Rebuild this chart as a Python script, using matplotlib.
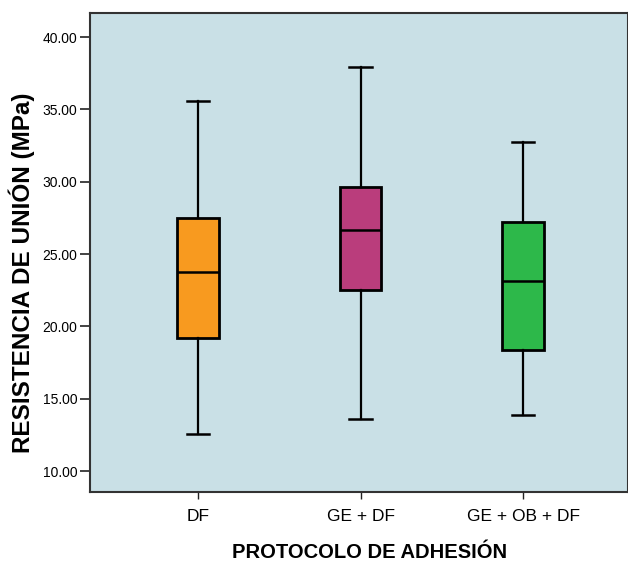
import matplotlib
matplotlib.use("Agg")
import matplotlib.pyplot as plt

categories = ["DF", "GE + DF", "GE + OB + DF"]
whisker_low = [12.56, 13.60, 13.88]
q1 = [19.20, 22.52, 18.37]
median = [23.78, 26.68, 23.12]
q3 = [27.47, 29.66, 27.22]
whisker_high = [35.58, 37.93, 32.74]
colors = ["#F89A1F", "#BA3D7C", "#2DB84A"]
yticks = [10, 15, 20, 25, 30, 35, 40]

plt.rcParams['font.family'] = ['Liberation Sans', 'DejaVu Sans']

fig = plt.figure(figsize=(6.28, 5.62), dpi=100)
ax = fig.add_axes([90/628, 70/562, 1 - 90/628, (492-13)/562])
ax.set_facecolor("#C9E0E6")

stats = []
for i, c in enumerate(categories):
    stats.append(dict(label=c, whislo=whisker_low[i], q1=q1[i], med=median[i],
                      q3=q3[i], whishi=whisker_high[i], fliers=[]))

bp = ax.bxp(stats, positions=[1, 2, 3], widths=0.254, patch_artist=True,
            showfliers=False, capwidths=0.14,
            boxprops=dict(linewidth=2.0, edgecolor="black"),
            medianprops=dict(color="black", linewidth=1.8),
            whiskerprops=dict(color="black", linewidth=1.6),
            capprops=dict(color="black", linewidth=1.8))
for patch, col in zip(bp['boxes'], colors):
    patch.set_facecolor(col)

ax.set_xlim(0.335, 3.646)
ax.set_ylim(8.55, 41.66)
ax.set_yticks(yticks)
ax.set_yticklabels([f"{v:.2f}" for v in yticks], fontsize=10)
ax.set_xticks([1, 2, 3])
ax.set_xticklabels(categories, fontsize=12.5)
ax.tick_params(axis='y', length=7, width=1.2, color="#222222", pad=2)
ax.tick_params(axis='x', length=5, width=1.0, color="#222222", pad=7)
for s in ax.spines.values():
    s.set_color("#333333")
    s.set_linewidth(1.5)

fig.text(370/628, 1 - 553/562, "PROTOCOLO DE ADHESIÓN", fontsize=14.5,
         fontweight="bold", ha="center", va="center")
fig.text(22/628, 1 - 273/562, "RESISTENCIA DE UNIÓN (MPa)", fontsize=17.5,
         fontweight="bold", ha="center", va="center", rotation=90)

fig.savefig("out.png", dpi=100)
